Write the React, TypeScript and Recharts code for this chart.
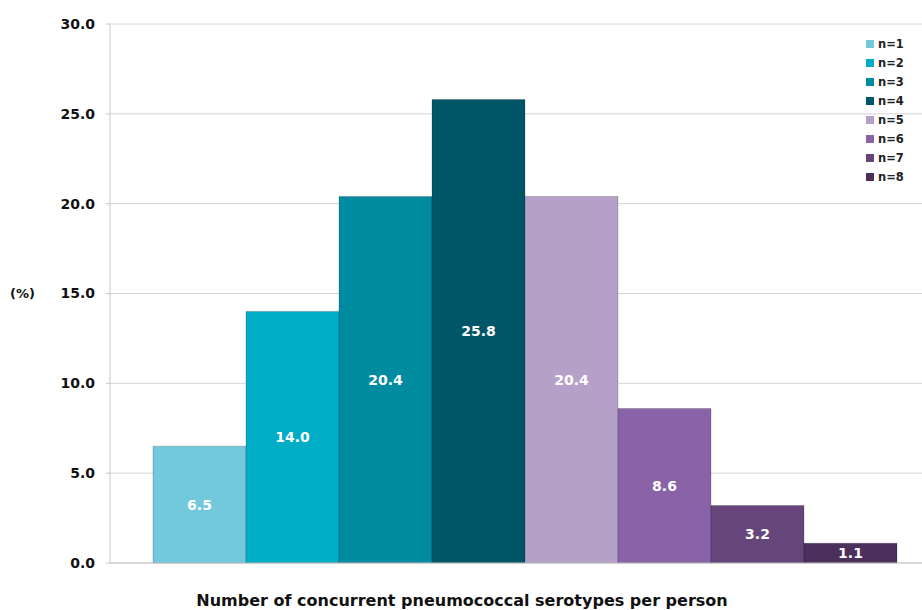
import { Bar, BarChart, CartesianGrid, LabelList, Legend, XAxis, YAxis } from "recharts";

const categories = ["serotypes"];
const seriesNames = ["n=1", "n=2", "n=3", "n=4", "n=5", "n=6", "n=7", "n=8"];
const seriesValues = [6.5, 14.0, 20.4, 25.8, 20.4, 8.6, 3.2, 1.1];
const seriesColors = ["#72c9dc", "#00adc6", "#008ba1", "#005567", "#b5a1c8", "#8a62a8", "#66457b", "#4b2f5c"];
const yTicks = [0, 5, 10, 15, 20, 25, 30];

const FONT = "'DejaVu Sans', sans-serif";

// one row, one key per series
const chartData = categories.map((name) => {
  const row: Record<string, string | number> = { name };
  seriesNames.forEach((s, i) => {
    row[s] = seriesValues[i];
  });
  return row;
});

function LegendBox() {
  return (
    <div style={{ fontFamily: FONT, fontWeight: 700, fontSize: 11.5, color: "#222" }}>
      {seriesNames.map((s, i) => (
        <div key={s} style={{ display: "flex", alignItems: "center", height: 19 }}>
          <span style={{ width: 8, height: 8, background: seriesColors[i], marginRight: 4 }} />
          <span>{s}</span>
        </div>
      ))}
    </div>
  );
}

export default function App() {
  return (
    <div style={{ position: "absolute", left: 0, top: 0, width: 922, height: 610, overflow: "hidden", background: "#fff" }}>
      <BarChart
        width={936}
        height={610}
        data={chartData}
        margin={{ top: 24, right: 0, bottom: 0, left: 0 }}
        barGap={0}
        barCategoryGap={43}
      >
        <CartesianGrid vertical={false} stroke="#d4d4d4" />
        <XAxis dataKey="name" tick={false} height={47} stroke="#c8c8c8" tickLine={false} />
        <YAxis
          width={110}
          domain={[0, 30]}
          ticks={yTicks}
          tickFormatter={(v: number) => v.toFixed(1)}
          tickSize={4}
          tickMargin={11}
          stroke="#c8c8c8"
          tick={{ fill: "#111", fontSize: 14, fontWeight: 700, fontFamily: FONT }}
          label={{
            value: "(%)",
            position: "insideLeft",
            offset: 10,
            style: { fill: "#111", fontSize: 13, fontWeight: 700, fontFamily: FONT }
          }}
        />
        <Legend
          layout="vertical"
          verticalAlign="middle"
          align="center"
          content={() => <LegendBox />}
          wrapperStyle={{ top: 34, left: 866, width: 60 }}
        />
        {seriesNames.map((s, i) => (
          <Bar
            key={s}
            dataKey={s}
            fill={seriesColors[i]}
            stroke="rgba(0,0,0,0.18)"
            strokeWidth={1}
            isAnimationActive={false}
          >
            <LabelList
              dataKey={s}
              position="center"
              formatter={(v: number) => v.toFixed(1)}
              style={{ fill: "#fff", fontSize: 14, fontWeight: 700, fontFamily: FONT }}
            />
          </Bar>
        ))}
      </BarChart>
      <div
        style={{
          position: "absolute",
          left: 0,
          width: 924,
          top: 591,
          textAlign: "center",
          fontFamily: FONT,
          fontWeight: 700,
          fontSize: 16,
          color: "#111"
        }}
      >
        Number of concurrent pneumococcal serotypes per person
      </div>
    </div>
  );
}
